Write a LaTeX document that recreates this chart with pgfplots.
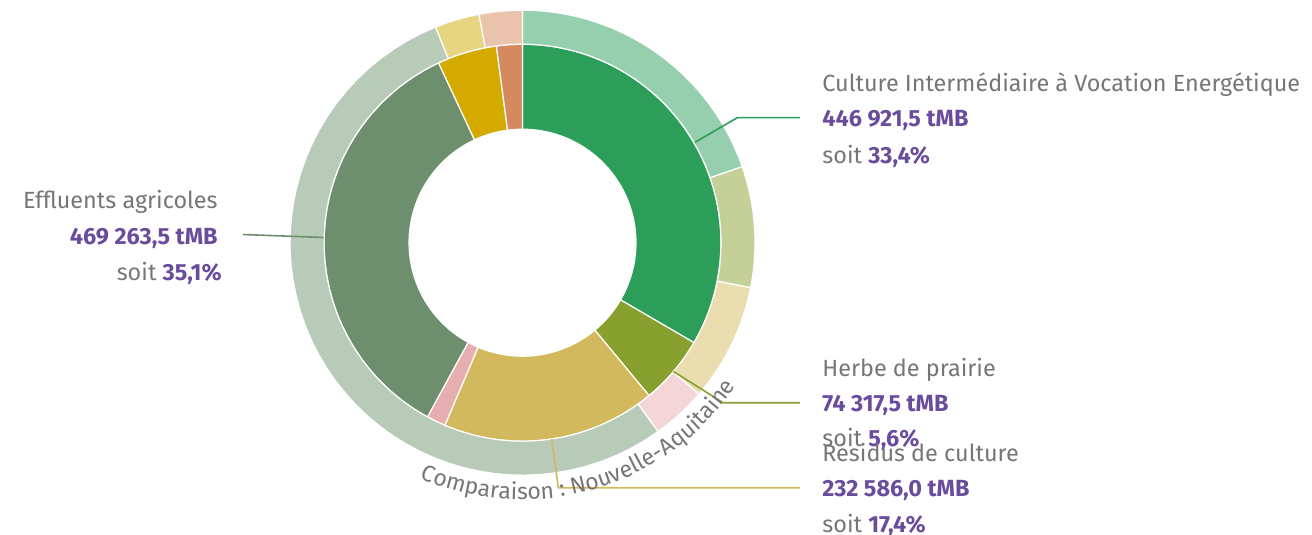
\documentclass[border=0pt]{standalone}
\usepackage{pgfplots}
\pgfplotsset{compat=1.18}
\usepackage{fontspec}
\setmainfont{Fira Sans}
\usetikzlibrary{decorations.text}
\definecolor{gtxt}{HTML}{767676}
\definecolor{ptxt}{HTML}{6A4C9C}
\definecolor{civeI}{HTML}{2C9E5A}
\definecolor{civeO}{HTML}{96CFAE}
\definecolor{herbI}{HTML}{88A02E}
\definecolor{herbO}{HTML}{C5CF98}
\definecolor{resiI}{HTML}{D3B95E}
\definecolor{resiO}{HTML}{EADDB0}
\definecolor{pinkI}{HTML}{E6AEAE}
\definecolor{pinkO}{HTML}{F4D6D9}
\definecolor{efflI}{HTML}{6D8F6D}
\definecolor{efflO}{HTML}{B8CAB8}
\definecolor{goldI}{HTML}{D4AA00}
\definecolor{goldO}{HTML}{E8D582}
\definecolor{orngI}{HTML}{D48A5E}
\definecolor{orngO}{HTML}{EAC4AD}

% #1 colour, #2 start %, #3 end %, #4 inner radius, #5 outer radius (pixels)
% t in [0,1]: outer arc, [1,2]: radial in, [2,3]: inner arc back, [3,4]: radial out
\newcommand{\sector}[5]{%
  \addplot[fill=#1, draw=white, line width=0.6pt, line join=round,
           domain=0:4, samples=201, variable=\t]
   ({522.5+((\t<1) ? #5 : ((\t<2) ? (#5-(#5-#4)*(\t-1)) : ((\t<3) ? #4 : (#4+(#5-#4)*(\t-3)))))
       *sin(3.6*#2+3.6*(#3-#2)*((\t<1) ? \t : ((\t<2) ? 1 : ((\t<3) ? (3-\t) : 0))))},
    {242.7-((\t<1) ? #5 : ((\t<2) ? (#5-(#5-#4)*(\t-1)) : ((\t<3) ? #4 : (#4+(#5-#4)*(\t-3)))))
       *cos(3.6*#2+3.6*(#3-#2)*((\t<1) ? \t : ((\t<2) ? 1 : ((\t<3) ? (3-\t) : 0))))});}

\newcommand{\lab}{\fontsize{11.7}{14}\selectfont}

\begin{document}
\begin{tikzpicture}
\begin{axis}[
  scale only axis, width=656pt, height=267.5pt,
  xmin=0, xmax=1312, ymin=0, ymax=535, y dir=reverse,
  hide axis, clip=false,
]
% inner ring: territory (shares in %)
\sector{civeI}{0}{33.4}{113.5}{198.5}
\sector{herbI}{33.4}{39.0}{113.5}{198.5}
\sector{resiI}{39.0}{56.4}{113.5}{198.5}
\sector{pinkI}{56.4}{57.95}{113.5}{198.5}
\sector{efflI}{57.95}{93.05}{113.5}{198.5}
\sector{goldI}{93.05}{97.9}{113.5}{198.5}
\sector{orngI}{97.9}{100}{113.5}{198.5}
% outer ring: Nouvelle-Aquitaine comparison (shares in %)
\sector{civeO}{0}{19.7}{198.5}{232.5}
\sector{herbO}{19.7}{28.1}{198.5}{232.5}
\sector{resiO}{28.1}{36.3}{198.5}{232.5}
\sector{pinkO}{36.3}{40.1}{198.5}{232.5}
\sector{efflO}{40.1}{93.9}{198.5}{232.5}
\sector{goldO}{93.9}{97.0}{198.5}{232.5}
\sector{orngO}{97.0}{100}{198.5}{232.5}

% connectors
\addplot[civeI, line width=0.8pt] coordinates {(695,142.3) (737.3,117.7) (800,117.7)};
\addplot[efflI, line width=0.8pt] coordinates {(243,234.5) (323.5,237.5)};
\addplot[herbI, line width=0.8pt] coordinates {(673.5,371.5) (723,402.7) (800,402.7)};
\addplot[resiI, line width=0.8pt] coordinates {(551.7,439) (558.3,487.7) (800,487.7)};

% curved caption
\addplot[draw=none, domain=0:1, samples=100, variable=\t,
  postaction={decorate},
  decoration={text along path, text align=center, text color=gtxt,
    text={|\fontsize{11.5}{14}\selectfont|Comparaison : Nouvelle-Aquitaine}}]
  ({522.5+257*sin(218.7-110*\t)},{242.7-257*cos(218.7-110*\t)});

% labels
\begin{scope}[every node/.style={inner sep=0pt, font=\lab, text=gtxt}]
\node[anchor=base west] at (axis cs:822,91.5) {Culture Intermédiaire à Vocation Energétique};
\node[anchor=base west, text=ptxt] at (axis cs:822,126.7) {\bfseries 446 921,5 tMB};
\node[anchor=base west] at (axis cs:822,163) {soit \textcolor{ptxt}{\bfseries 33,4\%}};

\node[anchor=base east] at (axis cs:218,208.3) {Effluents agricoles};
\node[anchor=base east, text=ptxt] at (axis cs:218,244.5) {\bfseries 469 263,5 tMB};
\node[anchor=base east] at (axis cs:222,280.7) {soit \textcolor{ptxt}{\bfseries 35,1\%}};

\node[anchor=base west] at (axis cs:822,376) {Herbe de prairie};
\node[anchor=base west, text=ptxt] at (axis cs:822,411.7) {\bfseries 74 317,5 tMB};
\node[anchor=base west] at (axis cs:822,446.7) {soit \textcolor{ptxt}{\bfseries 5,6\%}};

\node[anchor=base west] at (axis cs:822,461) {Résidus de culture};
\node[anchor=base west, text=ptxt] at (axis cs:822,496.7) {\bfseries 232 586,0 tMB};
\node[anchor=base west] at (axis cs:822,532.7) {soit \textcolor{ptxt}{\bfseries 17,4\%}};
\end{scope}

\coordinate (bl) at (axis cs:0,535);
\coordinate (tr) at (axis cs:1312,0);
\end{axis}
\pgfresetboundingbox
\useasboundingbox (bl) rectangle (tr);
\end{tikzpicture}
\end{document}
